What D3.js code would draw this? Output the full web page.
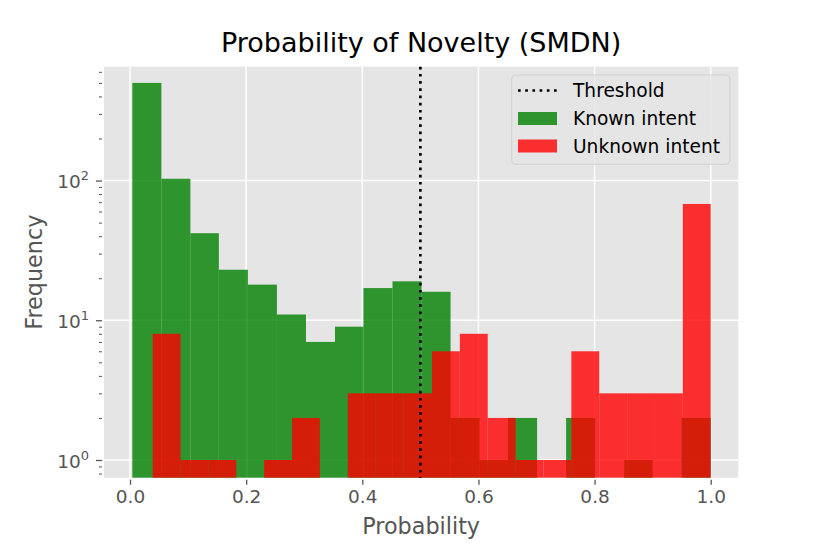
<!DOCTYPE html>
<html>
<head>
<meta charset="utf-8">
<script src="https://cdn.jsdelivr.net/npm/d3@7"></script>
<style>
    body { margin: 0; background: #fff; }
    text { font-family: "DejaVu Sans", sans-serif; }
</style>
</head>
<body>
<div id="chart"></div>
<script>
// Histogram bin edges
const knownEdges = [0.004, 0.054, 0.104, 0.153, 0.203, 0.253, 0.303, 0.353, 0.402, 0.452,
    0.502, 0.552, 0.602, 0.651, 0.701, 0.751, 0.801, 0.851, 0.900, 0.950, 1.000];
const unknownEdges = [0.039, 0.087, 0.135, 0.183, 0.231, 0.279, 0.327, 0.375, 0.423, 0.471,
    0.520, 0.568, 0.616, 0.664, 0.712, 0.760, 0.808, 0.856, 0.904, 0.952, 1.000];

// Counts per bin
const knownCounts = [500, 103, 42, 23, 18, 11, 7, 9, 17, 19, 16, 2, 1, 2, 0, 2, 0, 1, 0, 2];
const unknownCounts = [8, 1, 1, 0, 1, 2, 0, 3, 3, 3, 6, 8, 2, 1, 1, 6, 3, 3, 3, 68];

const threshold = 0.5;
const xTicks = [0.0, 0.2, 0.4, 0.6, 0.8, 1.0];
const yTicks = [1, 10, 100];
const yMinorTicks = [0.8, 0.9, 2, 3, 4, 5, 6, 7, 8, 9, 20, 30, 40, 50, 60, 70, 80, 90, 200, 300, 400, 500, 600];
const legendItems = ["Threshold", "Known intent", "Unknown intent"];

(function () {
    const W = 822, H = 548;
    const plot = { left: 104, right: 738.3, top: 66.7, bottom: 477.7 };
    const tickColor = "#555555";

    const svg = d3.select("#chart").append("svg")
        .attr("width", W)
        .attr("height", H);

    svg.append("rect").attr("width", W).attr("height", H).attr("fill", "#fff");

    const x = d3.scaleLinear().domain([-0.0448, 1.0475]).range([plot.left, plot.right]);
    const y = d3.scaleLog().domain([0.747, 653]).range([plot.bottom, plot.top]);

    // Gray panel
    svg.append("rect")
        .attr("x", plot.left).attr("y", plot.top)
        .attr("width", plot.right - plot.left)
        .attr("height", plot.bottom - plot.top)
        .attr("fill", "#e5e5e5");

    // White grid lines (below bars)
    const grid = svg.append("g").attr("stroke", "#fff").attr("stroke-width", 1.5);
    grid.selectAll("line.gx").data(xTicks).join("line")
        .attr("x1", d => x(d)).attr("x2", d => x(d))
        .attr("y1", plot.top).attr("y2", plot.bottom);
    grid.selectAll("line.gy").data(yTicks).join("line")
        .attr("x1", plot.left).attr("x2", plot.right)
        .attr("y1", d => y(d)).attr("y2", d => y(d));

    // Bars from edges and counts
    function drawHist(edges, counts, color) {
        const bins = counts.map((c, i) => ({ x0: edges[i], x1: edges[i + 1], c: c }))
            .filter(d => d.c > 0);
        svg.append("g").selectAll("rect").data(bins).join("rect")
            .attr("x", d => x(d.x0))
            .attr("width", d => x(d.x1) - x(d.x0))
            .attr("y", d => y(d.c))
            .attr("height", d => plot.bottom - y(d.c))
            .attr("fill", color)
            .attr("fill-opacity", 0.8);
    }
    drawHist(knownEdges, knownCounts, "#008000");
    drawHist(unknownEdges, unknownCounts, "#ff0000");

    // Threshold line
    svg.append("line")
        .attr("x1", x(threshold)).attr("x2", x(threshold))
        .attr("y1", plot.top).attr("y2", plot.bottom)
        .attr("stroke", "#000")
        .attr("stroke-width", 2.7)
        .attr("stroke-dasharray", "2.7,4.5");

    // X axis
    const xAxis = svg.append("g")
        .attr("transform", `translate(0,${plot.bottom + 2})`)
        .call(d3.axisBottom(x).tickValues(xTicks).tickFormat(d3.format(".1f"))
            .tickSize(5).tickPadding(5));
    xAxis.select(".domain").remove();
    xAxis.selectAll("line").attr("stroke", tickColor).attr("stroke-width", 1.3);
    xAxis.selectAll("text")
        .attr("fill", tickColor)
        .attr("font-size", "18.5px")
        .attr("font-family", "DejaVu Sans");

    // Y axis: major ticks with superscript labels
    const yAxis = svg.append("g")
        .attr("transform", `translate(${plot.left - 2},0)`)
        .call(d3.axisLeft(y).tickValues(yTicks).tickSize(6).tickPadding(7).tickFormat(""));
    yAxis.select(".domain").remove();
    yAxis.selectAll("line").attr("stroke", tickColor).attr("stroke-width", 1.3);
    yAxis.selectAll("text")
        .attr("fill", tickColor)
        .attr("font-size", "18.5px")
        .attr("font-family", "DejaVu Sans")
        .attr("dy", "0.38em")
        .each(function (d) {
            const t = d3.select(this);
            t.append("tspan").text("10");
            t.append("tspan")
                .attr("dy", "-0.6em")
                .attr("font-size", "13px")
                .text(Math.round(Math.log10(d)));
        });

    // Y axis minor ticks
    const yMinor = svg.append("g")
        .attr("transform", `translate(${plot.left - 2},0)`)
        .call(d3.axisLeft(y).tickValues(yMinorTicks).tickSize(3).tickFormat(""));
    yMinor.select(".domain").remove();
    yMinor.selectAll("line").attr("stroke", tickColor).attr("stroke-width", 1);

    // Title and axis labels
    svg.append("text")
        .attr("x", (plot.left + plot.right) / 2)
        .attr("y", 52)
        .attr("text-anchor", "middle")
        .attr("font-size", "27px")
        .attr("fill", "#000")
        .text("Probability of Novelty (SMDN)");

    svg.append("text")
        .attr("x", (plot.left + plot.right) / 2)
        .attr("y", 534)
        .attr("text-anchor", "middle")
        .attr("font-size", "22.3px")
        .attr("fill", tickColor)
        .text("Probability");

    svg.append("text")
        .attr("transform", `translate(42,${(plot.top + plot.bottom) / 2}) rotate(-90)`)
        .attr("text-anchor", "middle")
        .attr("font-size", "22.3px")
        .attr("fill", tickColor)
        .text("Frequency");

    // Legend
    const lg = svg.append("g");
    lg.append("rect")
        .attr("x", 511.7).attr("y", 75)
        .attr("width", 218.3).attr("height", 89.3)
        .attr("rx", 4)
        .attr("fill", "#e5e5e5").attr("fill-opacity", 0.8)
        .attr("stroke", "#cccccc").attr("stroke-opacity", 0.8).attr("stroke-width", 1);

    const rowY = [90.5, 118.5, 146];
    lg.append("line")
        .attr("x1", 518).attr("x2", 557)
        .attr("y1", rowY[0]).attr("y2", rowY[0])
        .attr("stroke", "#000").attr("stroke-width", 2.7)
        .attr("stroke-dasharray", "2.7,4.5");
    lg.append("rect")
        .attr("x", 518).attr("y", rowY[1] - 6.5).attr("width", 39).attr("height", 13)
        .attr("fill", "#008000").attr("fill-opacity", 0.8);
    lg.append("rect")
        .attr("x", 518).attr("y", rowY[2] - 6.5).attr("width", 39).attr("height", 13)
        .attr("fill", "#ff0000").attr("fill-opacity", 0.8);

    lg.selectAll("text.lab").data(legendItems).join("text")
        .attr("x", 573)
        .attr("y", (d, i) => rowY[i])
        .attr("dy", "0.36em")
        .attr("font-size", "18.6px")
        .attr("fill", "#000")
        .text(d => d);
})();
</script>
</body>
</html>
